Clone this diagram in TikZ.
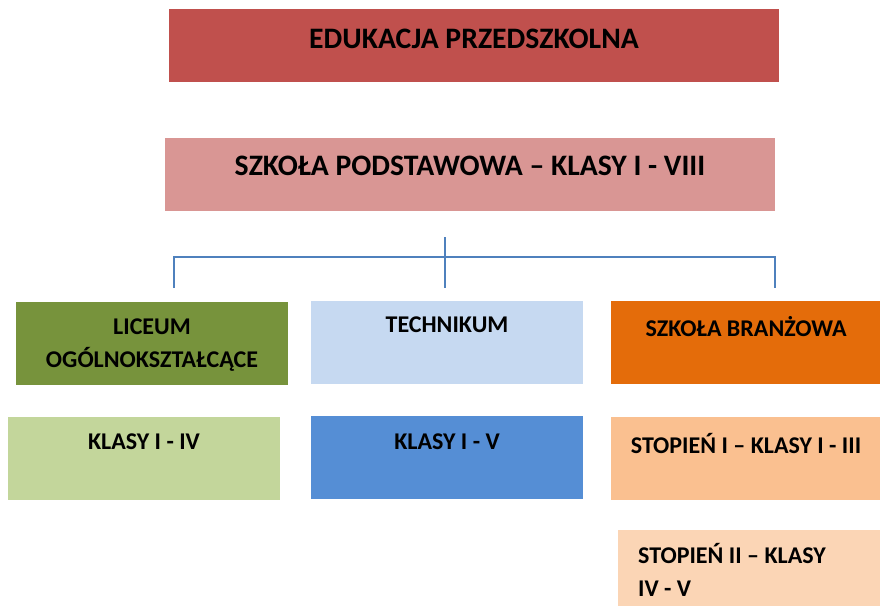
\documentclass[tikz,border=0pt]{standalone}
\usepackage{fontspec}
\setmainfont{Carlito}
\definecolor{cEdu}{HTML}{C0504D}
\definecolor{cSP}{HTML}{D99694}
\definecolor{cLic}{HTML}{77933C}
\definecolor{cLicK}{HTML}{C3D69B}
\definecolor{cTech}{HTML}{C6D9F1}
\definecolor{cTechK}{HTML}{558ED5}
\definecolor{cBr}{HTML}{E46C0A}
\definecolor{cBrI}{HTML}{FAC090}
\definecolor{cBrII}{HTML}{FBD5B5}
\definecolor{cLine}{HTML}{4F81BD}
\begin{document}
\begin{tikzpicture}[x=1pt,y=-1pt,
  box/.style={draw=none,rectangle,inner sep=0pt,outer sep=0pt},
  lbl/.style={inner sep=0pt,font=\bfseries\fontsize{24}{33}\selectfont,text=black,align=center},
  biglbl/.style={lbl,font=\bfseries\fontsize{29.7}{36}\selectfont},
  conn/.style={draw=cLine,line width=2pt}]
\useasboundingbox (0,0) rectangle (880,606);
% boxes
\node[box,fill=cEdu,minimum width=610pt,minimum height=73pt] (edu) at (474,45.5) {};
\node[box,fill=cSP,minimum width=610pt,minimum height=73pt] (sp) at (470,174.5) {};
\node[box,fill=cLic,minimum width=272pt,minimum height=83pt] (lic) at (152,343.5) {};
\node[box,fill=cTech,minimum width=272pt,minimum height=83pt] (tech) at (447,342) {};
\node[box,fill=cBr,minimum width=269pt,minimum height=83pt] (br) at (745.5,342.5) {};
\node[box,fill=cLicK,minimum width=272pt,minimum height=83pt] (licK) at (144,458) {};
\node[box,fill=cTechK,minimum width=272pt,minimum height=83pt] (techK) at (447,457.5) {};
\node[box,fill=cBrI,minimum width=269pt,minimum height=83pt] (brI) at (745.5,458) {};
\node[box,fill=cBrII,minimum width=262pt,minimum height=76pt] (brII) at (749,568) {};
% texts
\node[biglbl] (eduT) at (474,38.5) {EDUKACJA PRZEDSZKOLNA};
\node[biglbl] (spT) at (470,166) {SZKOŁA PODSTAWOWA – KLASY I - VIII};
\node[lbl] (licT) at (152,345.5) {LICEUM\\OGÓLNOKSZTAŁCĄCE};
\node[lbl] (techT) at (447,325) {TECHNIKUM};
\node[lbl] (brT) at (746,327) {SZKOŁA BRANŻOWA};
\node[lbl] (licKT) at (144,442) {KLASY I - IV};
\node[lbl] (techKT) at (447,442) {KLASY I - V};
\node[lbl] (brIT) at (746,443) {STOPIEŃ I – KLASY I - III};
\node[lbl,align=left,anchor=west] (brIIT) at (638,570) {STOPIEŃ II – KLASY\\IV - V};
% connector
\coordinate (hub) at (445,237);
\coordinate (bar) at (445,257);
\coordinate (dL) at (174,288);
\coordinate (dM) at (445,288);
\coordinate (dR) at (775,288);
\draw[conn] (hub) -- (dM);
\draw[conn] (dL) -- (dL |- bar) -- (dR |- bar) -- (dR);
\end{tikzpicture}
\end{document}
